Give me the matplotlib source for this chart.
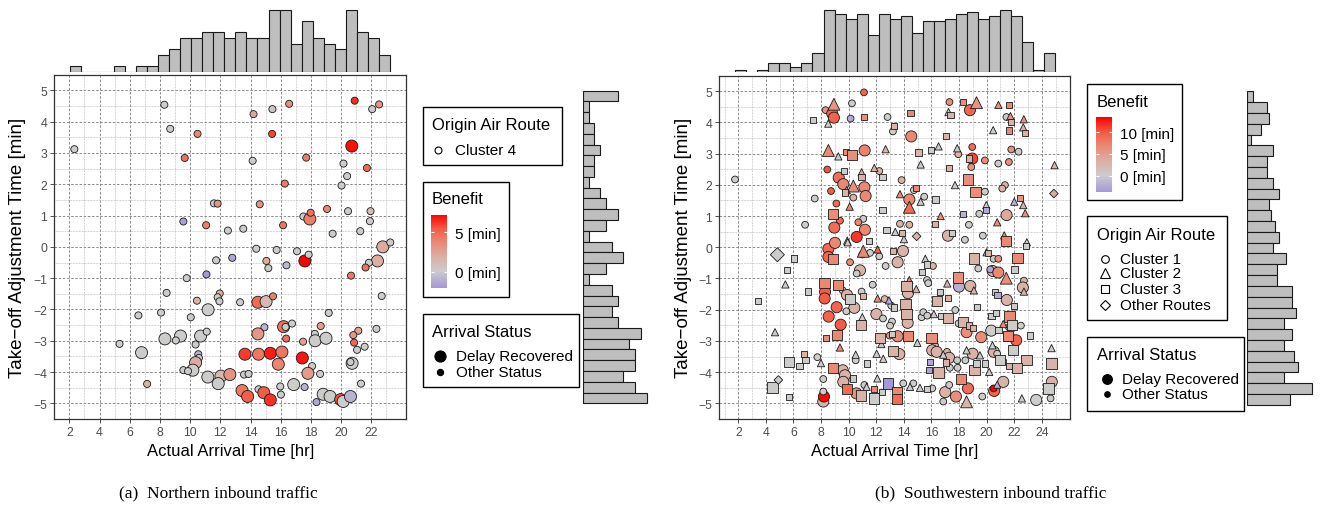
import numpy as np
import matplotlib.pyplot as plt
from matplotlib.colors import LinearSegmentedColormap, TwoSlopeNorm
from matplotlib.patches import Rectangle

plt.rcParams['font.family'] = ['Liberation Sans', 'DejaVu Sans']

W, H = 1321, 506

# ---------------- (a) Northern inbound traffic ----------------
north_arrival = [
    2.33, 8.29, 8.68, 10.49, 9.64, 14.20, 15.45, 16.56, 15.43, 14.14,
    20.90, 22.52, 22.06, 20.71, 17.69, 20.16, 21.71, 20.40, 20.03, 16.27,
    11.58, 11.82, 14.61, 9.55, 11.06, 12.50, 13.52, 16.16, 17.50, 17.93,
    17.98, 19.07, 20.46, 21.95, 21.91, 21.27, 19.44, 22.76, 23.26, 22.41,
    21.84, 21.62, 20.66, 17.60, 17.85, 17.08, 15.73, 14.38, 15.05, 15.18,
    16.38, 12.79, 11.72, 11.08, 9.77, 8.44, 10.45, 11.96, 11.82, 11.94,
    13.31, 14.49, 15.03, 15.49, 11.19, 6.57, 8.07, 10.04, 19.18, 22.69,
    14.92, 16.19, 16.32, 16.75, 14.49, 16.36, 18.65, 18.26, 18.28, 19.00,
    17.48, 21.14, 20.81, 20.86, 22.34, 21.56, 21.06, 8.33, 9.36, 9.05,
    10.69, 11.10, 10.36, 5.32, 6.78, 13.63, 14.53, 15.31, 16.08, 15.84,
    17.43, 10.54, 10.58, 10.36, 10.18, 9.55, 9.86, 11.17, 12.04, 12.63,
    11.86, 13.57, 13.87, 18.08, 18.61, 17.80, 20.73, 20.62, 21.32, 7.15,
    13.44, 13.81, 14.53, 14.88, 15.31, 15.97, 16.01, 16.86, 17.58, 18.37,
    18.81, 19.27, 19.97, 20.14, 20.62]
north_adjust = [
    3.12, 4.54, 3.77, 3.61, 2.84, 4.24, 4.40, 4.57, 3.61, 2.75,
    4.67, 4.55, 4.40, 3.22, 2.85, 2.66, 2.52, 2.26, 1.96, 2.02,
    1.39, 1.38, 1.36, 0.81, 0.69, 0.52, 0.58, 0.69, 0.97, 0.89,
    1.09, 1.21, 1.14, 1.14, 0.82, 0.50, 0.42, 0.00, 0.14, -0.45,
    -0.51, -0.66, -0.92, -0.45, -0.25, -0.14, -0.10, -0.06, -0.45, -0.68,
    -0.59, -0.35, -0.43, -0.88, -1.00, -1.47, -1.72, -1.49, -1.61, -1.74,
    -1.77, -1.77, -1.75, -1.58, -2.01, -2.19, -2.10, -2.25, -2.11, -1.57,
    -2.57, -2.55, -2.56, -2.45, -2.78, -2.93, -2.53, -2.78, -3.00, -2.92,
    -3.03, -2.68, -2.82, -3.06, -2.62, -3.19, -3.29, -2.94, -2.85, -2.99,
    -2.85, -2.71, -3.12, -3.10, -3.38, -3.43, -3.43, -3.40, -3.36, -3.75,
    -3.55, -3.43, -3.55, -3.70, -3.94, -3.94, -3.97, -4.16, -4.13, -4.08,
    -4.37, -4.08, -4.06, -3.81, -4.06, -4.04, -3.72, -3.68, -4.37, -4.38,
    -4.59, -4.78, -4.55, -4.66, -4.89, -4.46, -4.72, -4.40, -4.48, -4.96,
    -4.71, -4.78, -4.88, -4.94, -4.78]
north_benefit = [
    0.0, 0.0, 0.0, 3.6, 4.5, 2.2, 0.3, 3.4, 5.8, 0.0,
    6.3, 3.2, 0.2, 6.9, 4.0, 0.0, 4.8, 0.0, 0.0, 4.2,
    0.0, 3.0, 3.2, -1.8, 4.0, 0.0, 0.0, 4.3, 0.0, 4.1,
    4.5, 3.8, 0.0, 0.8, 0.0, 0.0, 0.0, 2.0, 0.0, 1.8,
    0.0, 4.4, 4.2, 7.2, 0.0, 0.0, 0.0, 0.0, 2.0, 0.0,
    -0.8, -1.5, 0.0, -2.1, 0.0, 0.0, 1.6, 1.8, 0.0, 0.0,
    0.0, 4.8, 1.2, 4.0, 0.0, 0.0, 0.0, 0.0, 0.0, 0.0,
    -0.9, 4.5, 0.0, 0.0, 3.0, 4.5, 2.6, 0.0, 0.0, 0.0,
    2.6, 2.4, 3.0, 5.0, 0.0, 0.0, 0.0, 0.0, 0.0, 0.0,
    0.0, 0.0, 0.0, 0.0, 0.0, 6.0, 4.3, 6.6, 4.3, 3.8,
    6.8, -1.2, 0.0, 2.0, 0.0, 0.0, 0.0, 0.0, 1.4, 3.2,
    0.0, 0.0, 0.0, 0.0, 0.0, 2.8, 0.0, 0.0, 0.0, 1.6,
    4.3, 5.2, 0.0, 5.3, 6.2, 0.0, 0.0, 0.0, -1.0, -1.5,
    0.0, 0.0, 5.6, 0.0, -1.0]
north_recovered = [
    0, 0, 0, 0, 0, 0, 0, 0, 0, 0,
    0, 0, 0, 1, 0, 0, 0, 0, 0, 0,
    0, 0, 0, 0, 0, 0, 0, 0, 0, 1,
    0, 0, 0, 0, 0, 0, 0, 1, 0, 1,
    0, 0, 0, 1, 0, 0, 0, 0, 0, 0,
    0, 0, 0, 0, 0, 0, 0, 0, 0, 0,
    0, 1, 1, 0, 1, 0, 0, 0, 0, 0,
    0, 1, 0, 0, 1, 0, 0, 0, 1, 1,
    0, 0, 0, 0, 0, 0, 0, 1, 1, 0,
    1, 0, 0, 0, 1, 1, 1, 1, 1, 1,
    1, 0, 0, 1, 1, 0, 0, 1, 1, 1,
    1, 0, 0, 0, 0, 1, 1, 0, 0, 0,
    1, 1, 0, 1, 1, 0, 0, 1, 0, 0,
    1, 1, 1, 1, 1]
north_route = [4] * len(north_arrival)

# marginal histogram counts (29 bins each)
north_top_counts = [1, 0, 0, 0, 1, 0, 1, 1, 3, 4, 6, 6, 7, 7, 6, 7, 6, 6,
                    11, 11, 5, 9, 6, 5, 4, 11, 7, 6, 3]
north_top_range = (2.28, 23.24)
north_side_counts = [6, 1, 1, 2, 2, 3, 2, 2, 1, 3, 4, 6, 4, 1, 5, 7, 4, 1,
                     5, 6, 5, 6, 10, 8, 9, 9, 7, 9, 11]   # top to bottom
north_side_range = (-4.97, 4.66)

# ---------------- (b) Southwestern inbound traffic ----------------
sw_arrival = [
    11.11, 8.93, 8.33, 8.81, 8.93, 8.52, 10.24, 10.14, 11.13, 7.39,
    12.82, 13.30, 13.21, 14.49, 14.54, 17.05, 17.31, 18.30, 17.24, 17.39,
    18.79, 19.27, 20.86, 21.64, 21.44, 21.73, 21.78, 22.70, 20.48, 22.66,
    22.80, 21.62, 8.53, 9.25, 9.81, 10.24, 11.16, 8.45, 12.68, 15.07,
    15.97, 16.52, 17.87, 17.95, 18.96, 18.96, 18.74, 19.88, 20.85, 21.62,
    21.79, 22.32, 15.22, 17.27, 18.89, 24.93, 11.86, 12.22, 10.94, 9.66,
    1.76, 9.28, 9.61, 10.34, 9.86, 10.94, 11.14, 11.23, 12.46, 13.84,
    14.86, 14.73, 13.72, 14.40, 14.40, 15.48, 15.22, 16.30, 17.71, 18.65,
    19.20, 19.88, 21.33, 21.14, 19.98, 19.98, 19.47, 18.29, 20.77, 21.45,
    22.01, 22.42, 22.66, 22.80, 24.88, 7.54, 9.11, 10.07, 8.72, 9.76,
    10.34, 8.89, 9.37, 8.96, 6.84, 11.06, 10.70, 11.18, 10.58, 9.90,
    11.50, 12.46, 12.75, 13.38, 13.72, 13.86, 14.40, 14.93, 14.01, 16.28,
    16.67, 17.20, 17.49, 18.43, 18.72, 19.73, 21.28, 21.43, 22.92, 4.83,
    6.06, 5.51, 5.41, 7.03, 3.45, 8.53, 8.53, 8.89, 9.01, 9.93,
    11.06, 10.99, 11.55, 12.10, 12.22, 10.10, 10.82, 10.58, 13.21, 13.94,
    13.55, 12.68, 11.74, 11.06, 10.94, 15.56, 15.70, 16.11, 15.34, 15.68,
    14.40, 14.20, 14.30, 14.90, 15.77, 17.15, 17.95, 18.00, 18.82, 19.08,
    19.11, 19.40, 20.00, 20.12, 20.51, 20.85, 20.44, 20.27, 20.85, 21.43,
    22.03, 22.25, 22.88, 22.71, 22.63, 22.71, 20.63, 20.80, 21.47, 22.01,
    8.24, 8.29, 8.26, 9.25, 9.57, 9.88, 10.07, 9.13, 10.41, 9.83,
    8.55, 9.42, 9.13, 8.36, 9.37, 10.89, 10.99, 12.10, 12.61, 12.92,
    13.09, 13.29, 12.01, 12.49, 13.14, 13.00, 14.13, 14.20, 14.28, 15.29,
    15.41, 15.70, 16.40, 16.62, 17.22, 16.18, 16.74, 17.20, 17.73, 17.97,
    18.31, 18.74, 18.55, 19.03, 19.30, 20.36, 20.68, 20.34, 19.61, 20.87,
    21.67, 21.62, 21.84, 22.49, 22.15, 21.57, 23.14, 21.21, 4.66, 12.27,
    12.37, 12.97, 13.16, 13.55, 14.28, 13.19, 13.67, 12.03, 12.51, 10.51,
    10.51, 11.35, 6.76, 5.65, 6.88, 6.43, 7.73, 7.99, 8.16, 8.89,
    9.57, 9.73, 9.61, 10.34, 9.90, 11.14, 10.56, 10.89, 11.30, 11.86,
    11.86, 12.08, 12.44, 12.85, 13.48, 13.48, 13.96, 14.45, 14.69, 15.17,
    15.70, 14.98, 16.01, 16.26, 16.06, 16.38, 16.86, 17.13, 17.29, 15.89,
    15.82, 16.52, 17.05, 17.34, 17.87, 17.90, 18.46, 19.13, 19.28, 18.55,
    18.99, 19.52, 19.90, 20.19, 20.43, 20.53, 20.77, 20.97, 21.21, 21.64,
    21.93, 22.90, 22.22, 24.71, 24.71, 24.73, 24.49, 24.64, 22.56, 23.60,
    21.21, 20.77, 20.55, 20.51, 19.69, 18.55, 18.65, 18.12, 17.78, 17.00,
    16.86, 17.29, 16.06, 5.68, 4.47, 4.90, 8.16, 8.21, 8.16]
sw_adjust = [
    4.96, 4.58, 4.39, 4.28, 4.15, 3.96, 4.61, 4.12, 4.17, 4.08,
    4.17, 3.89, 3.71, 4.30, 3.55, 3.56, 4.65, 4.65, 4.33, 4.23,
    4.39, 4.63, 4.56, 4.56, 4.17, 4.20, 4.00, 4.10, 3.75, 3.84,
    3.66, 3.74, 3.10, 2.91, 3.05, 2.96, 3.10, 2.49, 3.14, 3.03,
    3.12, 3.23, 3.17, 2.98, 3.21, 2.84, 2.84, 2.78, 2.68, 2.73,
    3.13, 3.06, 2.65, 2.53, 2.57, 2.63, 2.54, 2.44, 2.40, 2.44,
    2.17, 2.23, 2.02, 1.96, 1.83, 2.25, 1.92, 1.64, 2.25, 2.15,
    1.90, 1.83, 1.70, 1.53, 1.28, 1.62, 1.46, 1.53, 1.99, 2.17,
    1.78, 1.78, 1.99, 1.88, 1.35, 1.20, 1.07, 1.07, 0.80, 1.03,
    1.46, 1.57, 1.35, 1.09, 1.72, 1.56, 1.40, 1.30, 1.80, 1.75,
    1.59, 1.06, 0.85, 0.63, 0.72, 0.91, 0.80, 0.56, 0.33, 0.21,
    0.19, 1.20, 0.56, 0.49, 0.75, 0.46, 0.72, 0.35, 0.26, 0.75,
    1.00, 0.37, 0.46, 0.24, 0.72, 0.37, 0.38, 0.19, 0.16, -0.24,
    -0.36, -0.74, -1.19, -1.42, -1.72, -0.05, -0.31, -0.37, 0.14, 0.16,
    -0.13, -0.23, -0.18, -0.07, -0.29, -0.48, -0.74, -0.84, -0.11, -0.12,
    -0.48, -0.60, -1.20, -1.56, -1.42, -0.37, -0.55, -0.60, -0.80, -1.05,
    -1.05, -1.24, -1.47, -1.34, -1.15, -1.16, -0.97, -1.26, -1.24, -1.38,
    -0.36, -0.68, -0.16, -0.18, -0.37, -0.37, -0.76, -0.71, -0.81, -0.99,
    -0.71, -0.34, 0.03, -1.07, -1.29, -1.42, -1.44, -1.53, -1.69, -1.88,
    -1.15, -1.43, -1.64, -1.22, -1.38, -1.53, -1.66, -1.92, -1.94, -2.05,
    -2.22, -2.48, -2.80, -2.91, -3.21, -2.49, -2.24, -1.64, -1.66, -1.70,
    -1.87, -1.93, -2.14, -2.28, -2.38, -2.51, -1.82, -2.14, -2.42, -2.24,
    -2.08, -2.19, -1.71, -1.43, -1.62, -2.14, -2.19, -2.27, -2.01, -2.44,
    -2.40, -2.51, -2.72, -2.59, -1.92, -2.21, -2.11, -2.67, -2.88, -2.64,
    -2.22, -2.56, -2.48, -2.51, -2.98, -2.83, -2.83, -2.46, -2.72, -2.91,
    -3.10, -2.83, -2.77, -2.85, -2.85, -3.33, -3.42, -3.41, -3.57, -3.44,
    -3.62, -3.72, -3.43, -3.67, -3.61, -3.81, -3.52, -3.71, -4.22, -3.86,
    -3.94, -4.10, -4.31, -4.20, -4.54, -4.41, -4.68, -4.75, -4.47, -4.55,
    -4.84, -4.20, -4.63, -4.36, -4.65, -4.86, -4.36, -4.47, -4.36, -4.50,
    -4.54, -3.06, -2.91, -3.14, -3.30, -3.35, -3.44, -3.35, -3.54, -3.67,
    -3.94, -4.01, -3.69, -3.86, -3.62, -3.86, -3.62, -3.94, -3.72, -3.30,
    -3.41, -3.46, -3.72, -3.99, -3.14, -3.35, -3.41, -3.62, -3.65, -3.81,
    -3.30, -3.62, -3.86, -3.23, -3.72, -4.31, -4.52, -4.84, -4.84, -4.89,
    -4.31, -4.40, -4.60, -4.52, -4.78, -4.95, -4.52, -4.22, -4.78, -4.64,
    -4.94, -4.41, -4.52, -4.80, -4.49, -4.25, -4.94, -4.78, -4.62]
# 1 = Cluster 1, 2 = Cluster 2, 3 = Cluster 3, 4 = other routes
sw_route = [
    1, 2, 1, 1, 1, 2, 1, 1, 3, 3,
    1, 3, 1, 3, 1, 3, 1, 3, 2, 3,
    1, 2, 2, 3, 1, 2, 3, 2, 2, 2,
    3, 3, 2, 2, 3, 3, 1, 1, 2, 3,
    3, 2, 2, 1, 1, 1, 3, 1, 1, 1,
    1, 1, 2, 3, 1, 2, 2, 1, 2, 3,
    1, 1, 1, 2, 2, 3, 1, 1, 3, 1,
    3, 1, 2, 1, 2, 1, 2, 3, 2, 3,
    3, 1, 1, 1, 2, 3, 1, 3, 2, 1,
    2, 3, 2, 2, 4, 1, 1, 2, 1, 3,
    1, 3, 1, 1, 1, 1, 1, 1, 1, 2,
    3, 3, 3, 2, 1, 3, 1, 4, 2, 3,
    2, 1, 3, 1, 1, 1, 2, 3, 2, 4,
    3, 3, 2, 3, 3, 1, 1, 3, 1, 2,
    2, 1, 1, 2, 1, 1, 1, 1, 3, 1,
    1, 1, 1, 3, 1, 2, 3, 1, 3, 1,
    2, 3, 1, 2, 1, 2, 3, 1, 1, 2,
    3, 1, 2, 3, 1, 1, 1, 1, 1, 2,
    3, 3, 3, 1, 1, 2, 3, 3, 1, 3,
    3, 1, 1, 3, 1, 1, 3, 1, 1, 1,
    1, 1, 3, 3, 2, 3, 2, 2, 1, 2,
    1, 3, 1, 1, 1, 1, 3, 3, 1, 1,
    1, 1, 3, 3, 3, 2, 3, 3, 1, 1,
    3, 3, 1, 3, 3, 3, 3, 1, 1, 3,
    3, 1, 3, 1, 1, 3, 3, 2, 2, 3,
    2, 1, 3, 1, 3, 3, 1, 2, 2, 2,
    1, 3, 3, 3, 3, 3, 1, 2, 1, 3,
    1, 1, 1, 3, 3, 1, 1, 3, 2, 3,
    3, 2, 3, 3, 3, 3, 1, 2, 1, 2,
    3, 2, 3, 1, 1, 1, 2, 1, 1, 3,
    3, 3, 3, 1, 1, 1, 1, 3, 3, 2,
    1, 2, 3, 2, 2, 1, 1, 3, 1, 3,
    3, 3, 3, 2, 3, 1, 3, 1, 2, 1,
    1, 2, 1, 1, 1, 2, 1, 3, 1, 1,
    1, 1, 1, 3, 3, 4, 1, 1, 1]
sw_recovered = [
    0, 1, 0, 1, 1, 0, 0, 0, 0, 0,
    0, 0, 0, 0, 1, 0, 0, 0, 0, 0,
    1, 1, 0, 0, 0, 0, 0, 0, 0, 0,
    0, 0, 1, 0, 0, 1, 1, 0, 0, 0,
    0, 0, 0, 0, 0, 1, 0, 0, 0, 0,
    0, 0, 0, 0, 0, 0, 0, 0, 0, 0,
    0, 1, 1, 1, 0, 0, 1, 1, 0, 0,
    0, 0, 0, 1, 1, 0, 0, 0, 0, 1,
    1, 0, 0, 0, 0, 0, 0, 0, 0, 1,
    0, 0, 0, 0, 0, 0, 0, 0, 0, 0,
    0, 1, 0, 1, 0, 0, 0, 1, 1, 0,
    0, 0, 0, 0, 0, 0, 0, 0, 0, 0,
    0, 1, 0, 0, 0, 0, 0, 1, 0, 1,
    0, 0, 0, 0, 0, 1, 1, 1, 1, 0,
    1, 0, 0, 0, 0, 0, 1, 0, 0, 1,
    1, 0, 0, 0, 0, 0, 0, 0, 0, 0,
    0, 1, 1, 0, 0, 0, 1, 1, 1, 0,
    1, 0, 0, 0, 0, 0, 1, 0, 1, 1,
    0, 1, 0, 0, 1, 0, 0, 0, 1, 0,
    1, 1, 1, 1, 0, 1, 1, 1, 1, 0,
    1, 1, 1, 0, 0, 1, 0, 0, 0, 0,
    0, 0, 1, 0, 0, 0, 1, 1, 1, 0,
    0, 0, 1, 0, 0, 0, 0, 1, 0, 0,
    1, 0, 1, 0, 0, 0, 0, 1, 1, 0,
    1, 0, 1, 0, 1, 1, 0, 0, 0, 1,
    0, 0, 0, 1, 1, 1, 1, 0, 0, 0,
    0, 0, 0, 1, 0, 0, 0, 0, 0, 1,
    1, 1, 1, 0, 1, 0, 1, 1, 0, 0,
    1, 0, 0, 1, 1, 1, 0, 0, 0, 0,
    0, 0, 1, 0, 1, 1, 0, 0, 1, 0,
    0, 1, 0, 0, 0, 0, 0, 1, 0, 0,
    1, 0, 0, 0, 0, 1, 0, 1, 0, 0,
    1, 1, 1, 0, 1, 1, 1, 0, 0, 1,
    1, 0, 1, 0, 0, 1, 1, 1, 1, 1,
    0, 0, 0, 0, 1, 0, 1, 1, 0]
sw_benefit = [
    9.5, 6.0, 6.0, 9.0, 9.5, 0, 0, -2.5, 6.5, 0,
    0, 3.0, 0, 7.0, 7.0, 3.0, 6.5, 6.5, 0, 3.0,
    9.5, 6.0, 6.5, 7.0, 0, 6.0, 3.0, 6.0, 0, 3.0,
    3.5, 7.0, 7.0, 0, 7.0, 6.5, 7.5, 10.5, 3.0, 3.0,
    0, 0, 0, 3.0, 9.0, 11.0, 3.0, 6.5, 0, 6.5,
    6.0, 0, 0, 3.0, 6.0, 3.0, 3.0, 3.0, 3.0, 0,
    0, 8.5, 7.0, 6.5, 3.0, 3.0, 7.0, 7.0, 0, 3.0,
    7.0, 0, 6.5, 7.0, 9.0, 0, 0, 0, 0, 6.5,
    6.5, 0, 3.0, 3.0, 0, -2.5, 0, -2.0, 6.5, 4.0,
    -2.0, 6.0, 3.0, 6.0, 4.0, 0, 9.0, 7.0, 10.0, 3.0,
    3.0, 6.5, 9.0, 9.0, 0, 0, 7.0, 7.0, 11.5, 0,
    0, 0, 0, 0, 3.0, 3.0, 3.0, 3.0, 0, 3.0,
    6.5, 3.0, 0, 0, 0, 0, 6.5, 7.0, 0, 0,
    0, 0, 0, 0, 0, 9.0, 9.5, 7.0, 7.0, 0,
    7.0, 3.0, 0, 9.5, 0, 7.0, 3.0, 0, 3.0, 3.0,
    3.0, 0, 0, 3.0, 0, 0, 0, 3.0, 0, 0,
    6.5, 3.0, 3.0, 3.0, 0, 3.0, 6.5, -2.0, 3.0, 3.0,
    3.0, 0, -2.5, 3.0, 0, 6.5, 3.0, -2.5, 7.0, 6.5,
    0, 7.0, 0, 3.0, 3.0, 3.0, 0, -2.5, 3.0, 0,
    7.0, 10.0, 10.0, 7.0, 0, 3.0, 0, 9.5, 3.0, 0,
    9.5, 10.0, 7.0, 6.5, 6.5, 3.0, 0, 6.5, 3.0, -2.5,
    0, 0, 3.0, 0, 0, 0, 3.0, 3.0, 3.0, 0,
    0, 0, 3.0, 0, 3.0, 0, 0, 3.0, 0, 0,
    3.0, 3.0, 6.5, 3.0, 0, 0, 0, 0, 6.5, 0,
    7.0, 3.0, 0, 0, 9.5, 7.0, 0, 6.5, 0, 3.0,
    0, 6.5, 0, 6.5, 7.0, 3.0, 3.0, 0, 0, 0,
    0, 0, 3.0, 0, 0, 0, 0, 0, 0, 7.0,
    3.0, 3.0, 3.0, 0, 9.0, 0, 6.5, 3.0, 0, 7.0,
    0, 0, 0, -3.7, 7.0, 9.0, 0, 0, 0, 0,
    0, 0, 6.5, 3.0, 3.0, 3.0, 0, 3.0, 3.0, -2.5,
    -3.0, 3.0, 3.0, 0, 0, 0, 0, 3.0, 0, 0,
    3.0, 0, 0, 0, 0, 3.0, 0, 0, 0, 3.0,
    0, 3.0, 3.0, 0, 3.0, 3.0, 0, 0, 0, 0,
    3.0, -2.5, 9.5, 13.6, 0, 3.0, 9.0, 7.0, 6.5, 3.0,
    0, 0, 0, 0, 0, 0, 3.0, 13.2, 0]

sw_top_counts = [1, 0, 1, 4, 4, 2, 4, 8, 27, 25, 23, 25, 16, 25, 23, 24, 17,
                 22, 22, 23, 25, 26, 23, 24, 27, 24, 13, 1, 8]
sw_top_range = (1.78, 24.97)
sw_side_counts = [3, 10, 11, 7, 2, 13, 10, 10, 13, 16, 11, 12, 14, 16, 13, 20,
                  15, 15, 23, 23, 25, 19, 23, 19, 24, 26, 19, 33, 22]  # top to bottom
sw_side_range = (-5.0, 4.95)

route_labels = ['Cluster 1', 'Cluster 2', 'Cluster 3', 'Other Routes']
sw_markers = {1: 'o', 2: '^', 3: 's', 4: 'D'}
north_markers = {4: 'o'}          # the northern flow is a single cluster
marker_scale = {'o': 1.0, '^': 1.15, 's': 0.85, 'D': 0.8}
status_labels = ['Delay Recovered', 'Other Status']

# purple -> grey -> red, grey sitting at zero benefit
benefit_cmap = LinearSegmentedColormap.from_list('benefit', [
    (0.0, '#a597da'), (0.5, '#cccccc'), (0.625, '#dcb0a4'),
    (0.75, '#e98b77'), (0.875, '#f55a43'), (1.0, '#ff0000')])

TICK_GREY = '#4d4d4d'
BAR_GREY = '#bebebe'

fig = plt.figure(figsize=(W / 100, H / 100), dpi=100)


def px_box(x0, y0, x1, y1):
    return [x0 / W, 1 - y1 / H, (x1 - x0) / W, (y1 - y0) / H]


def scatter_panel(box, xlim, ylim, xticks, arrival, adjust, benefit, recovered,
                  route, markers, norm, s_small, s_big, label_x):
    ax = fig.add_axes(px_box(*box))
    arrival = np.asarray(arrival)
    adjust = np.asarray(adjust)
    benefit = np.asarray(benefit)
    recovered = np.asarray(recovered).astype(bool)
    route = np.asarray(route)
    for code, mk in markers.items():
        m = route == code
        if not m.any():
            continue
        sizes = np.where(recovered[m], s_big, s_small) * marker_scale[mk]
        ax.scatter(arrival[m], adjust[m], s=sizes, c=benefit[m], cmap=benefit_cmap,
                   norm=norm, marker=mk, edgecolors='#1a1a1a', linewidths=0.6,
                   zorder=3)
    ax.set_xlim(*xlim)
    ax.set_ylim(*ylim)
    ax.set_xticks(xticks)
    ax.set_xticks(np.arange(xticks[0] - 1, xticks[-1] + 2, 2), minor=True)
    ax.set_yticks(np.arange(-5, 6, 1))
    ax.set_yticks(np.arange(-5.5, 5.6, 1), minor=True)
    ax.set_yticklabels([str(v).replace('-', '\u2212') for v in range(-5, 6)])
    ax.grid(which='major', color='#7a7a7a', linestyle=(0, (3, 2)), linewidth=0.6)
    ax.grid(which='minor', color='#a8a8a8', linestyle=(0, (1, 1.2)), linewidth=0.5)
    ax.set_axisbelow(True)
    ax.tick_params(which='major', length=3, width=0.6, color='#333333',
                   labelsize=8.8, labelcolor=TICK_GREY, pad=2)
    ax.tick_params(which='minor', length=0)
    for sp in ax.spines.values():
        sp.set_color('#333333')
        sp.set_linewidth(0.9)
    ax.set_xlabel('Actual Arrival Time [hr]', fontsize=12)
    ax.set_ylabel('Take\u2212off Adjustment Time [min]', fontsize=13.5)
    h_px = box[3] - box[1]
    w_px = box[2] - box[0]
    ax.xaxis.set_label_coords(0.5, -(452 - box[3]) / h_px)
    ax.xaxis.label.set_va('center')
    ax.yaxis.set_label_coords(-(box[0] - label_x) / w_px, 0.5)
    ax.yaxis.label.set_va('center')
    return ax


def top_hist(box, xlim, counts, rng):
    ax = fig.add_axes(px_box(*box))
    edges = np.linspace(rng[0], rng[1], len(counts) + 1)
    ax.bar(edges[:-1], counts, width=np.diff(edges), align='edge',
           color=BAR_GREY, edgecolor='#1a1a1a', linewidth=0.8)
    ax.set_xlim(*xlim)
    ax.set_ylim(0, max(counts) * 1.04)
    ax.axis('off')


def side_hist(box, ylim, counts, rng):
    ax = fig.add_axes(px_box(*box))
    edges = np.linspace(rng[1], rng[0], len(counts) + 1)
    ax.barh(edges[1:], counts, height=edges[:-1] - edges[1:], align='edge',
            color=BAR_GREY, edgecolor='#1a1a1a', linewidth=0.8)
    ax.set_ylim(*ylim)
    ax.set_xlim(0, max(counts) * 1.05)
    ax.axis('off')


def colour_key(box, norm, ticks):
    cax = fig.add_axes(px_box(*box))
    vals = np.linspace(norm.vmin, norm.vmax, 256).reshape(-1, 1)
    cax.imshow(vals, cmap=benefit_cmap, norm=norm, aspect='auto', origin='lower',
               extent=[0, 1, norm.vmin, norm.vmax])
    cax.hlines(ticks, 0, 0.2, color='white', linewidth=0.8)
    cax.hlines(ticks, 0.8, 1, color='white', linewidth=0.8)
    cax.set_xticks([])
    cax.yaxis.tick_right()
    cax.set_yticks(ticks)
    cax.set_yticklabels([f'{t} [min]' for t in ticks])
    cax.tick_params(length=0, pad=6, labelsize=11)
    for sp in cax.spines.values():
        sp.set_visible(False)


# ---------------- panel (a) ----------------
north_norm = TwoSlopeNorm(vcenter=0, vmin=min(north_benefit), vmax=max(north_benefit))
north_box = (54.3, 75.7, 406, 420)
north_xlim = (1.25, 24.3)
north_ylim = (-5.45, 5.15)
scatter_panel(north_box, north_xlim, north_ylim, list(range(2, 23, 2)),
              north_arrival, north_adjust, north_benefit, north_recovered,
              north_route, north_markers, north_norm, 26, 75, 18)
top_hist((54.3, 8, 406, 73), north_xlim, north_top_counts, north_top_range)
side_hist((582.7, 75.7, 650, 420), north_ylim, north_side_counts, north_side_range)

# ---------------- panel (b) ----------------
sw_norm = TwoSlopeNorm(vcenter=0, vmin=min(sw_benefit), vmax=max(sw_benefit))
sw_box = (719.3, 76.5, 1070, 420)
sw_xlim = (0.62, 26.05)
sw_ylim = (-5.45, 5.45)
scatter_panel(sw_box, sw_xlim, sw_ylim, list(range(2, 25, 2)),
              sw_arrival, sw_adjust, sw_benefit, sw_recovered,
              sw_route, sw_markers, sw_norm, 24, 64, 683)
top_hist((719.3, 8, 1070, 73), sw_xlim, sw_top_counts, sw_top_range)
side_hist((1247.3, 76.5, 1315, 420), sw_ylim, sw_side_counts, sw_side_range)

# ---------------- legends ----------------
colour_key((431, 216, 446.7, 289.3), north_norm, [0, 5])
colour_key((1096, 117.7, 1112, 192.7), sw_norm, [0, 5, 10])

lay = fig.add_axes([0, 0, 1, 1])
lay.set_xlim(0, W)
lay.set_ylim(H, 0)
lay.axis('off')


def legend_box(x0, y0, x1, y1, title, tx, ty):
    lay.add_patch(Rectangle((x0, y0), x1 - x0, y1 - y0, fill=False,
                            edgecolor='black', linewidth=1.0))
    lay.text(tx, ty, title, fontsize=12, va='center', ha='left')


def legend_item(mx, tx, y, text, marker, ms, filled):
    lay.plot([mx], [y], marker=marker, markersize=ms, linestyle='none',
             markerfacecolor='black' if filled else 'white',
             markeredgecolor='black', markeredgewidth=0.8)
    lay.text(tx, y, text, fontsize=11, va='center', ha='left')


# (a)
legend_box(422.7, 108.3, 561.7, 165.7, 'Origin Air Route', 431.7, 125)
legend_item(438, 455, 150.7, 'Cluster 4', 'o', 5, False)
legend_box(422.7, 182.7, 509.3, 298.3, 'Benefit', 431.7, 200)
legend_box(422.7, 315, 579.3, 387.7, 'Arrival Status', 431.7, 332.7)
legend_item(440, 456, 357.3, status_labels[0], 'o', 8, True)
legend_item(440, 456, 372.7, status_labels[1], 'o', 4.5, True)

# (b)
legend_box(1087.3, 85, 1181.7, 200.7, 'Benefit', 1097, 102.7)
legend_box(1087.3, 217.3, 1226.7, 321.3, 'Origin Air Route', 1097, 235.7)
for (code, mk), yy, ms in zip(sw_markers.items(), [260, 274.3, 290, 305.7],
                              [5.5, 7, 5.2, 5.5]):
    legend_item(1105, 1120, yy, route_labels[code - 1], mk, ms, False)
legend_box(1087.3, 337.7, 1244.3, 411.7, 'Arrival Status', 1097, 356)
legend_item(1106.7, 1122, 380, status_labels[0], 'o', 7, True)
legend_item(1106.7, 1122, 395, status_labels[1], 'o', 4, True)

# sub-captions
fig.text(218 / W, 1 - 493 / H, '(a)  Northern inbound traffic', ha='center',
         va='center', fontsize=12.5, family=['Liberation Serif', 'DejaVu Serif'])
fig.text(991 / W, 1 - 493 / H, '(b)  Southwestern inbound traffic', ha='center',
         va='center', fontsize=12.5, family=['Liberation Serif', 'DejaVu Serif'])

fig.savefig('out.png', dpi=100)
